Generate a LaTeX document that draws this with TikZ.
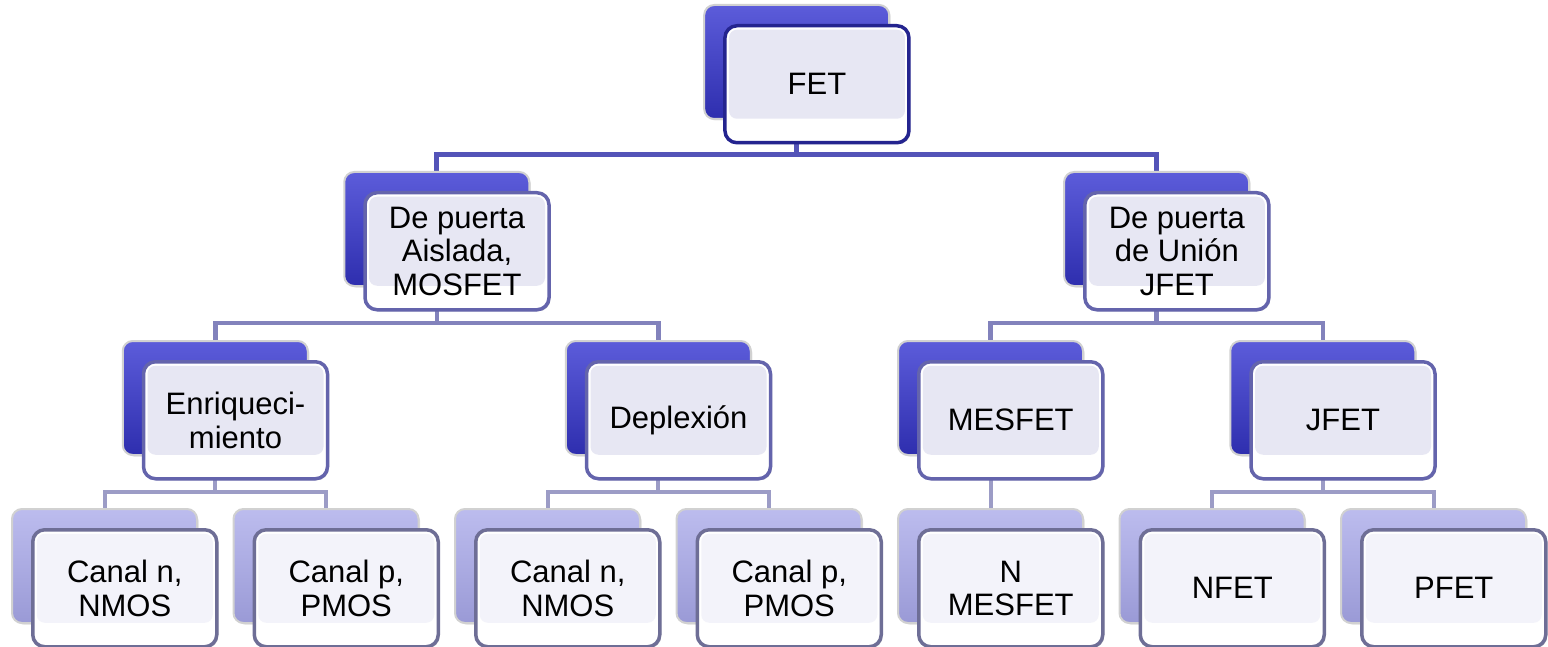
\documentclass[tikz,border=0pt]{standalone}
\usepackage{fontspec}
\setmainfont{Liberation Sans}
\usetikzlibrary{backgrounds,calc,shadows}
\definecolor{bkTop}{HTML}{5C5CDA}
\definecolor{bkBot}{HTML}{2E2EAE}
\definecolor{lbTop}{HTML}{BCBCEE}
\definecolor{lbBot}{HTML}{9A9AD6}
\definecolor{bdOne}{HTML}{24248F}
\definecolor{bdTwo}{HTML}{6464AC}
\definecolor{bdFour}{HTML}{6E6E96}
\definecolor{lavA}{HTML}{E7E7F3}
\definecolor{lavB}{HTML}{F3F3FA}
\definecolor{cOne}{HTML}{5454B8}
\definecolor{cTwo}{HTML}{8282BC}
\definecolor{cThree}{HTML}{9C9CC6}
\newcommand\fetbox[6]{%
  \node[#4,anchor=north west] (b#1) at (#2,#3) {};
  \node[#5,anchor=north west] (f#1) at (#2+20,#3+20) {#6};
}
\begin{document}
\begin{tikzpicture}[x=1pt,y=-1pt,
  backbase/.style={rectangle, rounded corners=10pt, minimum width=185pt,
    minimum height=114pt, inner sep=0pt, draw=white!82!black, line width=2pt,
    drop shadow={opacity=0.25, shadow xshift=1.5pt, shadow yshift=-1.5pt}},
  backdark/.style={backbase, top color=bkTop, bottom color=bkBot},
  backlight/.style={backbase, top color=lbTop, bottom color=lbBot},
  frontbase/.style={rectangle, rounded corners=12pt, minimum width=184pt,
    minimum height=117pt, inner sep=0pt, fill=white, line width=3.5pt,
    align=center, font=\fontsize{31}{33.5}\selectfont, text=black,
    drop shadow={opacity=0.35, shadow xshift=1.5pt, shadow yshift=-1.5pt}},
  frontone/.style={frontbase, draw=bdOne, path picture={
    \fill[lavA, rounded corners=8pt]
      ([xshift=4pt,yshift=-4pt]path picture bounding box.north west) rectangle
      ([xshift=-4pt,yshift=24pt]path picture bounding box.south east);}},
  fronttwo/.style={frontbase, draw=bdTwo, path picture={
    \fill[lavA, rounded corners=8pt]
      ([xshift=4pt,yshift=-4pt]path picture bounding box.north west) rectangle
      ([xshift=-4pt,yshift=24pt]path picture bounding box.south east);}},
  frontfour/.style={frontbase, draw=bdFour, path picture={
    \fill[lavB, rounded corners=8pt]
      ([xshift=4pt,yshift=-4pt]path picture bounding box.north west) rectangle
      ([xshift=-4pt,yshift=24pt]path picture bounding box.south east);}},
  conone/.style={draw=cOne, line width=5pt},
  contwo/.style={draw=cTwo, line width=4.5pt},
  conthree/.style={draw=cThree, line width=4pt}
]
\useasboundingbox (0,0) rectangle (1548,647);
\coordinate (j1) at (0,155);
\coordinate (j2) at (0,323);
\coordinate (j3) at (0,492);

\fetbox{FET}{703.2}{4}{backdark}{frontone}{FET}
\fetbox{MOS}{343.25}{171}{backdark}{fronttwo}{De puerta\\Aislada,\\MOSFET}
\fetbox{JU}{1063.1}{171}{backdark}{fronttwo}{De puerta\\de Unión\\JFET}
\fetbox{ENR}{121.75}{340}{backdark}{fronttwo}{Enriqueci-\\miento}
\fetbox{DEP}{564.75}{340}{backdark}{fronttwo}{Deplexión}
\fetbox{MES}{897}{340}{backdark}{fronttwo}{MESFET}
\fetbox{JF}{1229.25}{340}{backdark}{fronttwo}{JFET}
\fetbox{A}{11}{508}{backlight}{frontfour}{Canal n,\\NMOS}
\fetbox{B}{232.5}{508}{backlight}{frontfour}{Canal p,\\PMOS}
\fetbox{C}{454}{508}{backlight}{frontfour}{Canal n,\\NMOS}
\fetbox{D}{675.5}{508}{backlight}{frontfour}{Canal p,\\PMOS}
\fetbox{E}{897}{508}{backlight}{frontfour}{N\\MESFET}
\fetbox{F}{1118.5}{508}{backlight}{frontfour}{NFET}
\fetbox{G}{1340}{508}{backlight}{frontfour}{PFET}

\begin{pgfonlayer}{background}
\draw[conone] (bFET.south) -- (bFET.south |- j1);
\draw[conone] (bMOS.north) |- (bFET.south |- j1) -| (bJU.north);

\draw[contwo] (bMOS.south) -- (bMOS.south |- j2);
\draw[contwo] (bENR.north) |- (bMOS.south |- j2) -| (bDEP.north);
\draw[contwo] (bJU.south) -- (bJU.south |- j2);
\draw[contwo] (bMES.north) |- (bJU.south |- j2) -| (bJF.north);

\draw[conthree] (bENR.south) -- (bENR.south |- j3);
\draw[conthree] (bA.north) |- (bENR.south |- j3) -| (bB.north);
\draw[conthree] (bDEP.south) -- (bDEP.south |- j3);
\draw[conthree] (bC.north) |- (bDEP.south |- j3) -| (bD.north);
\draw[conthree] (bMES.south) -- (bE.north);
\draw[conthree] (bJF.south) -- (bJF.south |- j3);
\draw[conthree] (bF.north) |- (bJF.south |- j3) -| (bG.north);
\end{pgfonlayer}
\end{tikzpicture}
\end{document}
